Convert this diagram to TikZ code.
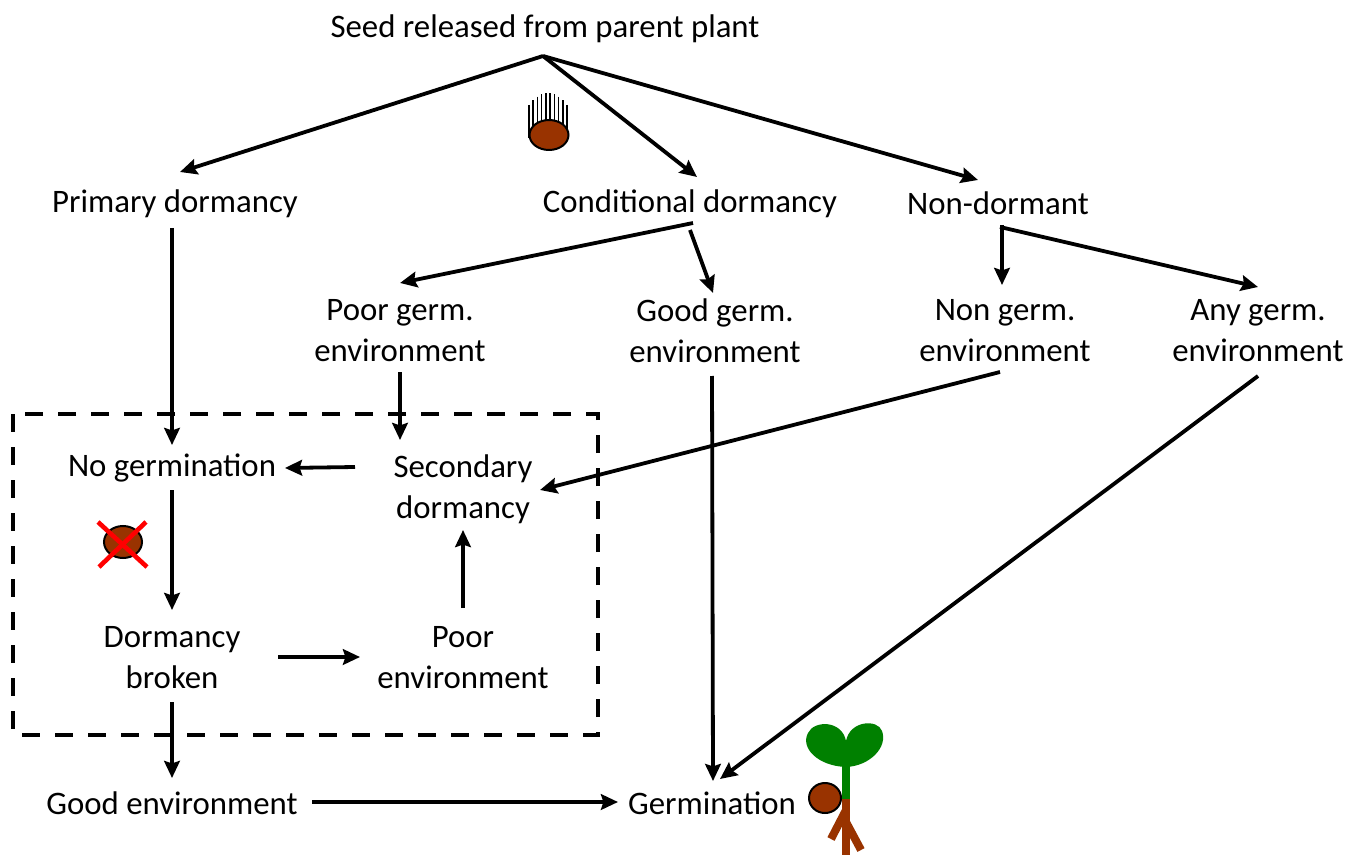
\documentclass[tikz,border=0pt]{standalone}
\usepackage{fontspec}
\setmainfont{Carlito}
\usetikzlibrary{arrows.meta,calc}
\definecolor{seedbrown}{RGB}{153,51,0}
\definecolor{leafgreen}{RGB}{0,128,0}
\tikzset{
  lbl/.style={font=\fontsize{16.4}{20.5}\selectfont, align=center, inner sep=0pt},
  arr/.style={line width=1.9pt, -{Stealth[length=8.5pt,width=7.8pt,inset=1.2pt]}},
  seedshape/.style={fill=seedbrown, draw=black, line width=1pt},
}
\begin{document}
\begin{tikzpicture}[x=0.5pt,y=-0.5pt]
\useasboundingbox (0,0) rectangle (1358,855);
\fill[white] (0,0) rectangle (1358,855);

% dashed box
\draw[line width=2pt, dash pattern=on 9pt off 7.5pt] (13,414) rectangle (598,735);

% labels
\node[lbl] (seed) at (545,29) {Seed released from parent plant};
\node[lbl] (prim) at (175,204) {Primary dormancy};
\node[lbl] (cond) at (690,204) {Conditional dormancy};
\node[lbl] (nond) at (998,203) {Non-dormant};
\node[lbl] (poor) at (400,331) {Poor germ.\\environment};
\node[lbl] (good) at (715,331) {Good germ.\\environment};
\node[lbl] (nong) at (1005,331) {Non germ.\\environment};
\node[lbl] (anyg) at (1258,331) {Any germ.\\environment};
\node[lbl] (nogerm) at (172,468) {No germination};
\node[lbl] (sec) at (463,489) {Secondary\\dormancy};
\node[lbl] (broken) at (172,658) {Dormancy\\broken};
\node[lbl] (poorenv) at (463,658) {Poor\\environment};
\node[lbl] (goodenv) at (172,803) {Good environment};
\node[lbl] (germ) at (712,803) {Germination};

% arrows
\draw[arr] ([shift={(-2,27)}]seed.center) -- ([shift={(5,-32)}]prim.center);
\draw[arr] ([shift={(-2,27)}]seed.center) -- ([shift={(7,-27)}]cond.center);
\draw[arr] ([shift={(-2,27)}]seed.center) -- ([shift={(-20,-23)}]nond.center);
\draw[arr] ([shift={(-3,24)}]prim.center) -- ([shift={(0,-23)}]nogerm.center);
\draw[arr] ([shift={(3,19)}]cond.center) -- ([shift={(0,-48)}]poor.center);
\draw[arr] ([shift={(0,26)}]cond.center) -- ([shift={(-2,-38)}]good.center);
\draw[arr] ([shift={(2,24)}]nond.center) -| ([shift={(-3,-46)}]nong.center);
\draw[arr] ([shift={(2,24)}]nond.center) -- ([shift={(0,-44)}]anyg.center);
\draw[arr] ([shift={(0,41)}]poor.center) -- ([shift={(-63,-49)}]sec.center);
\draw[arr] ([shift={(-3,45)}]good.center) -- ([shift={(1,-22)}]germ.center);
\draw[arr] ([shift={(-5,41)}]nong.center) -- ([shift={(77,1)}]sec.center);
\draw[arr] ([shift={(0,45)}]anyg.center) -- ([shift={(8,-24)}]germ.center);
\draw[arr] ([shift={(-108,-22)}]sec.center) -- ([shift={(113,0)}]nogerm.center);
\draw[arr] ([shift={(0,22)}]nogerm.center) -- ([shift={(0,-48)}]broken.center);
\draw[arr] ([shift={(106,-1)}]broken.center) -- ([shift={(-103,-1)}]poorenv.center);
\draw[arr] ([shift={(0,-50)}]poorenv.center) -- ([shift={(0,41)}]sec.center);
\draw[arr] ([shift={(0,44)}]broken.center) -- ([shift={(0,-25)}]goodenv.center);
\draw[arr] ([shift={(140,-1)}]goodenv.center) -- ([shift={(-94,-1)}]germ.center);

% seed icon with hairs
\foreach \i in {0,...,9}{
  \pgfmathsetmacro{\xx}{529+\i*4.22}
  \pgfmathsetmacro{\yy}{93+12*((\xx-548)/19)^2}
  \draw[line width=0.75pt] (\xx,\yy) -- (\xx,138);
}
\path[seedshape] (549,135) ellipse [x radius=19.5, y radius=15];

% crossed seed
\path[seedshape] (123,542) ellipse [x radius=19, y radius=16];
\draw[red, line width=2.3pt] (98,522) -- (147,567);
\draw[red, line width=2.3pt] (146,522) -- (99,567);

% seedling
\path[seedshape] (825,798) ellipse [x radius=16, y radius=15];
\fill[leafgreen] (846,767) .. controls (818,766) and (800,748) .. (808,733)
  .. controls (814,720) and (842,720) .. (846,741)
  .. controls (850,720) and (878,719) .. (882,731)
  .. controls (888,747) and (870,766) .. (846,767) -- cycle;
\fill[leafgreen] (842,760) rectangle (850,800);
\draw[seedbrown, line width=4pt] (846,799) -- (846,855);
\draw[seedbrown, line width=4pt] (846,810) -- (831,839);
\draw[seedbrown, line width=4pt] (846,822) -- (861,850);
\end{tikzpicture}
\end{document}
